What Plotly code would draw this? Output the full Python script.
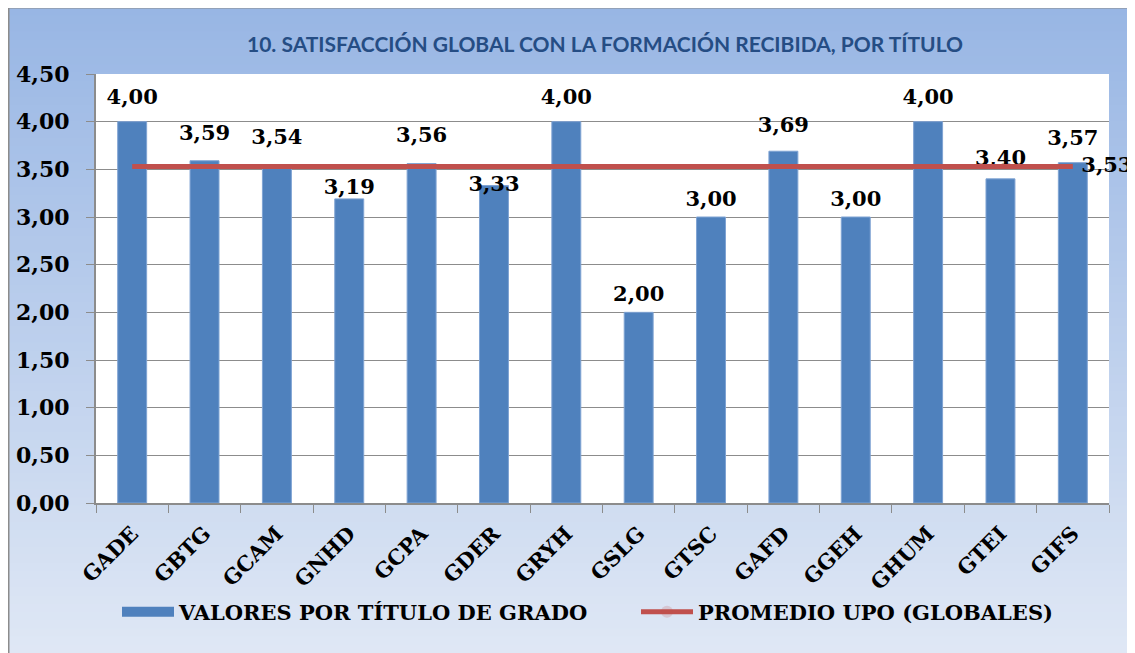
import plotly.graph_objects as go

categories = ["GADE", "GBTG", "GCAM", "GNHD", "GCPA", "GDER", "GRYH",
              "GSLG", "GTSC", "GAFD", "GGEH", "GHUM", "GTEI", "GIFS"]
valores = [4.00, 3.59, 3.54, 3.19, 3.56, 3.33, 4.00, 2.00, 3.00, 3.69, 3.00, 4.00, 3.40, 3.57]
promedio = [3.53] * len(categories)

W, H = 1135, 653
OFF = 8  # page body margin offset
L, R, T, B = 96 - OFF, 1109 - OFF, 74 - OFF, 503 - OFF
pw, ph = R - L, B - T

def px(x):
    return (x - OFF - L) / pw

def py(y):
    return (B - (y - OFF)) / ph

serif = "DejaVu Serif"
BLUE = "#4F81BD"
RED = "#C0504D"
lblfont = dict(family=serif, size=21, color="black", weight="bold")

# label placement styling (spacing between bar top and its value label)
lbl_pad = [18, 24, 25, 0, 24, 0, 18, 8, 8, 20, 8, 18, 12, 18]
lbl_pos = ["top center"] * len(categories)
lbl_pos[5] = "middle center"

fig = go.Figure()
fig.add_trace(go.Bar(
    x=categories, y=valores, name="VALORES POR TÍTULO DE GRADO",
    marker=dict(color=BLUE, line=dict(color="#7FA3D3", width=1)),
    width=0.4, showlegend=False,
))
# value labels above the bars
fig.add_trace(go.Scatter(
    x=categories, y=valores, mode="markers+text",
    marker=dict(size=lbl_pad, opacity=0),
    texttemplate="%{y:.2f}", textposition=lbl_pos,
    textfont=lblfont, cliponaxis=False, showlegend=False, hoverinfo="skip",
))
# legend proxy for the bar series (wide swatch like the original)
fig.add_trace(go.Scatter(
    x=[None], y=[None], name="VALORES POR TÍTULO DE GRADO", mode="lines",
    line=dict(color=BLUE, width=14), showlegend=True, legend="legend",
))
prom_text = [""] * (len(categories) - 1) + ["%.2f" % promedio[-1]]
prom_text = [t.replace(".", ",") for t in prom_text]
fig.add_trace(go.Scatter(
    x=categories, y=promedio, name="PROMEDIO UPO (GLOBALES)",
    mode="lines+markers+text", line=dict(color=RED, width=5),
    marker=dict(size=12, opacity=0),
    text=prom_text, textposition="middle right",
    textfont=lblfont, cliponaxis=False, legend="legend2",
))

# gradient background bands
shapes = []
n = 80
top_c = (152, 182, 228)
bot_c = (224, 232, 245)
y_top, y_bot = 7, H + OFF
for i in range(n):
    t = i / (n - 1)
    c = tuple(int(round(top_c[k] + (bot_c[k] - top_c[k]) * t)) for k in range(3))
    y0 = y_top + (y_bot - y_top) * i / n
    y1 = y_top + (y_bot - y_top) * (i + 1) / n + 1
    shapes.append(dict(type="rect", xref="paper", yref="paper", layer="below",
                       x0=px(8), x1=px(W + 20), y0=py(y1), y1=py(y0),
                       fillcolor="rgb(%d,%d,%d)" % c, line=dict(width=0)))
shapes.append(dict(type="rect", xref="paper", yref="paper", layer="below",
                   x0=0, x1=1, y0=0, y1=1, fillcolor="white", line=dict(width=0)))
shapes.append(dict(type="line", xref="paper", yref="paper",
                   x0=px(8), x1=px(W + 20), y0=py(7.5), y1=py(7.5),
                   line=dict(color="#8C8C8C", width=2)))
shapes.append(dict(type="line", xref="paper", yref="paper",
                   x0=px(8.5), x1=px(8.5), y0=py(7), y1=py(H + 20),
                   line=dict(color="#8C8C8C", width=2)))

legfont = dict(family=serif, size=21, color="black", weight="bold")
fig.update_layout(
    width=W, height=H,
    margin=dict(l=L, r=W - R, t=T, b=H - B, autoexpand=False),
    paper_bgcolor="white", plot_bgcolor="white",
    separators=",.",
    shapes=shapes,
    title=dict(text="<b>10. SATISFACCIÓN GLOBAL CON LA FORMACIÓN RECIBIDA, POR TÍTULO</b>",
               font=dict(family="Lato", size=21, color="#254D84"),
               x=px(605), xref="paper", xanchor="center",
               y=1 - (45 - OFF) / H, yref="container", yanchor="middle"),
    showlegend=True,
    legend=dict(orientation="h", x=px(117), xanchor="left", y=py(612), yanchor="middle",
                font=legfont, bgcolor="rgba(0,0,0,0)", itemwidth=52),
    legend2=dict(orientation="h", x=px(636), xanchor="left", y=py(612), yanchor="middle",
                 font=legfont, bgcolor="rgba(0,0,0,0)", itemwidth=52),
    bargap=0.6,
)
fig.update_yaxes(range=[0, 4.5], dtick=0.5, tickformat=".2f",
                 showgrid=True, gridcolor="#8C8C8C", gridwidth=1,
                 showline=True, linecolor="#8C8C8C", linewidth=2,
                 ticks="outside", ticklen=8, tickcolor="#8C8C8C",
                 ticklabelstandoff=12,
                 tickfont=dict(family=serif, size=22, color="black", weight="bold"),
                 zeroline=False)
fig.update_xaxes(range=[-0.5, len(categories) - 0.5],
                 showline=True, linecolor="#8C8C8C", linewidth=2,
                 ticks="outside", ticklen=8, tickcolor="#8C8C8C", tickson="boundaries",
                 tickangle=-45, ticklabelstandoff=8,
                 tickfont=dict(family=serif, size=21, color="black", weight="bold"))

fig.write_html("out.html")
